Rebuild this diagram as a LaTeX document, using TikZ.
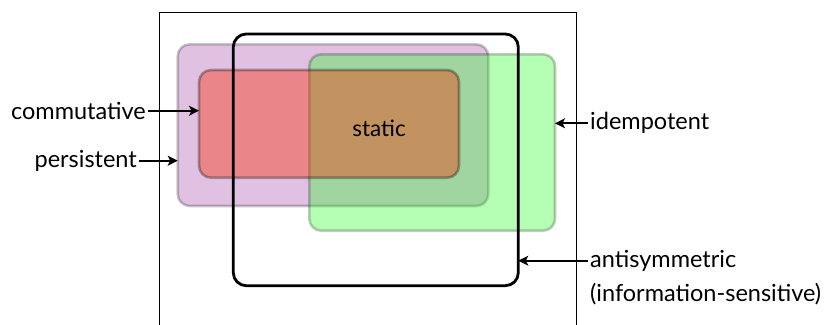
\documentclass[tikz,border=0pt]{standalone}
\usepackage{fontspec}
\setmainfont{Lato}
\usetikzlibrary{arrows.meta,calc}
\definecolor{setpurple}{RGB}{225,193,225}
\definecolor{setgreen}{RGB}{30,255,30}
\definecolor{setred}{RGB}{250,42,0}
\tikzset{
  setbox/.style={rounded corners=12pt, line width=2.6pt, draw=black, draw opacity=0.22},
  lbl/.style={font=\fontsize{23.5}{28}\selectfont, inner sep=2pt},
  pointer/.style={line width=2pt, -{Stealth[length=10pt,width=10pt,inset=2.5pt]}},
}
\begin{document}
\begin{tikzpicture}[x=1pt,y=-1pt]
  \clip (0,0) rectangle (830,324);
  \fill[white] (0,0) rectangle (830,324);
  % universe frame, open at the bottom
  \draw[line width=1.4pt] (159.5,340) -- (159.5,12.5) -- (576.7,12.5) -- (576.7,340);
  % property regions
  \path[setbox, fill=setpurple] (177.7,44.3) rectangle (488.3,206);
  \path[setbox, fill=setgreen, fill opacity=0.33] (309.3,54.3) rectangle (555,230.7);
  \path[setbox, fill=setred, fill opacity=0.39, draw opacity=0.3] (199,70) rectangle (459,177.7);
  \draw[line width=2.8pt, rounded corners=13pt] (233.3,34) rectangle (518.3,285.7);
  % named anchors on the region borders
  \coordinate (redW) at (199,110.7);
  \coordinate (purpleW) at (177.7,160.7);
  \coordinate (greenE) at (555,123.3);
  \coordinate (blackE) at (518.3,260.7);
  \node[lbl, font=\fontsize{22.5}{27}\selectfont] (static) at (379,128) {static};
  % labels and pointers
  \node[lbl, anchor=east] (comm) at (148,110.7) {commutative};
  \node[lbl, anchor=east] (pers) at (139,160.7) {persistent};
  \node[lbl, anchor=west] (idem) at (588,123.3) {idempotent};
  \node[lbl, anchor=west] (anti) at (588,260.7) {antisymmetric};
  \node[lbl, anchor=west] (info) at (588,293.7) {(information-sensitive)};
  \draw[pointer] (comm.east) -- (redW);
  \draw[pointer] (pers.east) -- (purpleW);
  \draw[pointer] (idem.west) -- (greenE);
  \draw[pointer] (anti.west) -- (blackE);
\end{tikzpicture}
\end{document}
